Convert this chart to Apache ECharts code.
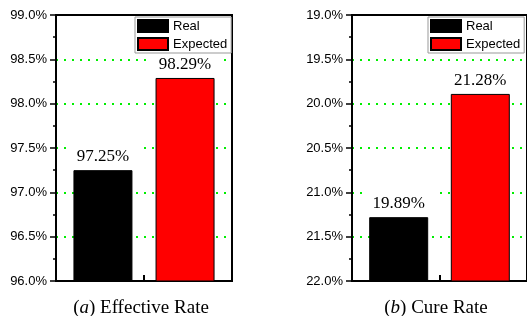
<!DOCTYPE html>
<html>
<head>
<meta charset="utf-8">
<script src="https://cdn.jsdelivr.net/npm/echarts@6/dist/echarts.min.js"></script>
<style>
  html, body { margin: 0; padding: 0; background: #fff; }
  #chart { width: 527px; height: 316px; }
</style>
</head>
<body>
<div id="chart"></div>
<script>
// data
const categories = ['Real', 'Expected']
const effectiveValues = [97.25, 98.29]
const effectiveLabels = ['97.25%', '98.29%']
// right panel: axis runs 19% (top) -> 22% (bottom); bar tops sit at these axis values
const cureBarTops = [21.28, 19.89]
const cureLabels = ['19.89%', '21.28%']
const effectiveRange = [96, 99]
const cureRange = [19, 22]
const colors = ['#000000', '#ff0000']

const serif = 'Liberation Serif'
const sans = 'Liberation Sans'

// the cure axis is drawn upside down: mirror values inside the range
const mirror = v => cureRange[0] + cureRange[1] - v

const myChart = echarts.init(document.getElementById('chart'))

function yAxisFor(gridIndex, range, fmt) {
  return {
    type: 'value',
    gridIndex: gridIndex,
    min: range[0],
    max: range[1],
    interval: 0.5,
    axisLine: { show: true, lineStyle: { color: '#000', width: 2 } },
    axisTick: { show: true, length: 6, lineStyle: { color: '#000', width: 1.5 } },
    minorTick: { show: true, splitNumber: 2, length: 3, lineStyle: { color: '#000', width: 1.5 } },
    axisLabel: { color: '#000', fontFamily: sans, fontSize: 13, margin: 9, formatter: fmt },
    splitLine: {
      show: true,
      showMinLine: false,
      showMaxLine: false,
      lineStyle: { color: '#00ee00', width: 2, type: [2, 6] }
    }
  }
}

function xAxisFor(gridIndex) {
  return {
    type: 'category',
    gridIndex: gridIndex,
    data: categories,
    axisLine: { show: true, lineStyle: { color: '#000', width: 2 } },
    axisTick: { show: true, inside: true, length: 6, lineStyle: { color: '#000', width: 2 } },
    axisLabel: { show: false },
    splitLine: { show: false }
  }
}

function barSeries(gridIndex, idx, value, labelText) {
  const data = categories.map((c, i) => (i === idx ? value : '-'))
  return {
    name: categories[idx],
    type: 'bar',
    xAxisIndex: gridIndex,
    yAxisIndex: gridIndex,
    data: data,
    barWidth: 59,
    barGap: '-110%',
    itemStyle: { color: colors[idx], borderColor: '#000', borderWidth: 1 },
    label: {
      show: true,
      position: 'top',
      distance: 3,
      formatter: () => labelText,
      fontFamily: serif,
      fontSize: 17,
      color: '#000',
      backgroundColor: '#fff',
      padding: [4, 10, 2, 10]
    }
  }
}

function legendAt(left) {
  return {
    orient: 'vertical',
    left: left,
    top: 17,
    data: categories,
    icon: 'rect',
    itemWidth: 30,
    itemHeight: 12,
    itemGap: 4,
    padding: [2, 4, 2, 2],
    borderColor: '#999',
    borderWidth: 1,
    backgroundColor: '#fff',
    selectedMode: false,
    textStyle: { fontFamily: sans, fontSize: 13, color: '#000' }
  }
}

myChart.setOption({
  animation: false,
  backgroundColor: '#fff',
  grid: [
    { left: 56, top: 15, width: 176, height: 266, show: true, borderColor: '#000', borderWidth: 2 },
    { left: 352, top: 15, width: 176, height: 266, show: true, borderColor: '#000', borderWidth: 2 }
  ],
  legend: [legendAt(135), legendAt(428)],
  xAxis: [xAxisFor(0), xAxisFor(1)],
  yAxis: [
    yAxisFor(0, effectiveRange, v => v.toFixed(1) + '%'),
    yAxisFor(1, cureRange, v => mirror(v).toFixed(1) + '%')
  ],
  series: [
    barSeries(0, 0, effectiveValues[0], effectiveLabels[0]),
    barSeries(0, 1, effectiveValues[1], effectiveLabels[1]),
    barSeries(1, 0, mirror(cureBarTops[0]), cureLabels[0]),
    barSeries(1, 1, mirror(cureBarTops[1]), cureLabels[1])
  ],
  graphic: [
    {
      type: 'text',
      x: 141,
      y: 308,
      style: {
        text: '({i|a}) Effective Rate',
        font: '19px "Liberation Serif"',
        fill: '#000',
        align: 'center',
        verticalAlign: 'middle',
        rich: { i: { fontStyle: 'italic', fontFamily: serif, fontSize: 19 } }
      }
    },
    {
      type: 'text',
      x: 436,
      y: 308,
      style: {
        text: '({i|b}) Cure Rate',
        font: '19px "Liberation Serif"',
        fill: '#000',
        align: 'center',
        verticalAlign: 'middle',
        rich: { i: { fontStyle: 'italic', fontFamily: serif, fontSize: 19 } }
      }
    }
  ]
})

window.addEventListener('resize', () => {
  myChart.resize()
})
</script>
</body>
</html>
